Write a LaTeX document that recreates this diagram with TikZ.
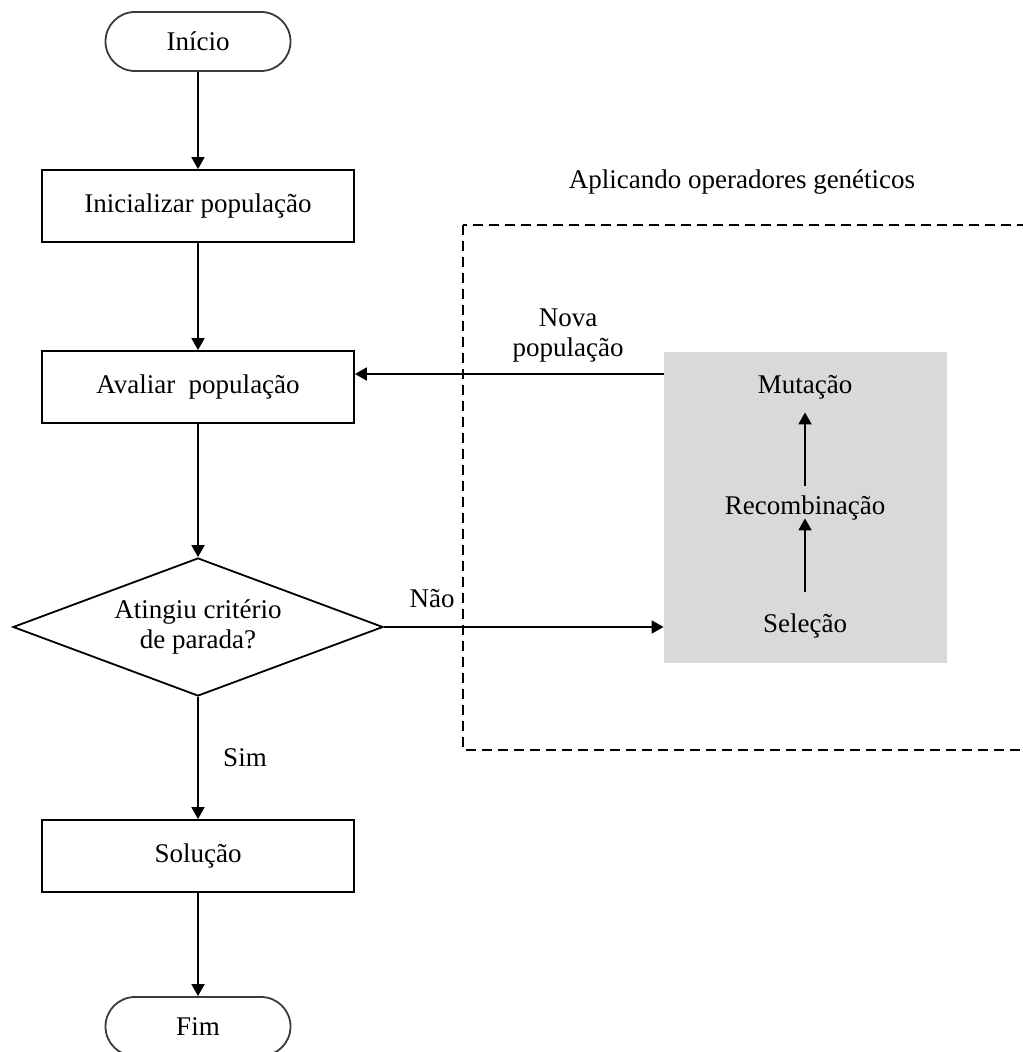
\documentclass[tikz,border=0pt]{standalone}
\usepackage{fontspec}
\setmainfont{Liberation Serif}
\usepackage{tikz}
\usetikzlibrary{positioning,arrows.meta,calc,shapes.geometric}
\definecolor{opgray}{HTML}{D9D9D9}
\definecolor{termline}{HTML}{3A3A3A}

\begin{document}
\begin{tikzpicture}[x=0.5pt, y=-0.5pt,
    every node/.style={font=\fontsize{13.5pt}{15pt}\selectfont},
    term/.style={draw=termline, line width=0.9pt, rounded corners=14.75pt, minimum width=92.5pt, minimum height=29.5pt},
    proc/.style={draw, line width=0.9pt, minimum width=156pt, minimum height=36pt},
    decide/.style={draw, diamond, line width=0.9pt, aspect=2.68, minimum width=185pt, minimum height=69pt, inner sep=0pt, align=center},
    op/.style={inner sep=0pt, text height=10pt, text depth=3pt},
    arr/.style={line width=0.9pt, -{Triangle[width=6.5pt,length=6pt]}}]
    \useasboundingbox (0,0) rectangle (1022,1052);
    \draw[dash pattern=on 5pt off 3pt, line width=0.9pt] (463,225) rectangle (1060,750);
    \node (optitle) at (742,182) {Aplicando operadores genéticos};
    \node[fill=opgray, minimum width=141.5pt, minimum height=155.5pt] (ops) at (805.5,507.5) {};
    \node[op] (mut) at (805,387) {Mutação};
    \node[op] (rec) at (805,507) {Recombinação};
    \node[op] (sel) at (805,625) {Seleção};
    \draw[arr] ([yshift=10pt]sel.north) -- ([yshift=1pt]rec.south);
    \draw[arr] ([yshift=4pt]rec.north) -- ([yshift=-6pt]mut.south);

    \node[term] (inicio) at (198,41.5) {Início};
    \node[proc] (inicializar) at (198,206) {Inicializar população};
    \node[proc] (avaliar) at (198,387) {Avaliar\ \ população};
    \node[decide] (criterio) at (198,627) {Atingiu critério\\de parada?};
    \node[proc] (solucao) at (198,856) {Solução};
    \node[term] (fim) at (198,1026.5) {Fim};
    \draw[arr] (inicio) -- (inicializar);
    \draw[arr] (inicializar) -- (avaliar);
    \draw[arr] (avaliar) -- (criterio);
    \draw[arr] (criterio) -- (solucao);
    \draw[arr] (solucao) -- (fim);

    \draw[arr] (criterio.east) -- (criterio.east -| ops.west);
    \node (nao) at (432,599) {Não};
    \node (sim) at (245,758) {Sim};
    \coordinate (retorno) at (664,374);
    \draw[arr] (retorno) -- (retorno -| avaliar.east);
    \node[align=center] (novapop) at (568,336) {Nova\\população};
\end{tikzpicture}
\end{document}
